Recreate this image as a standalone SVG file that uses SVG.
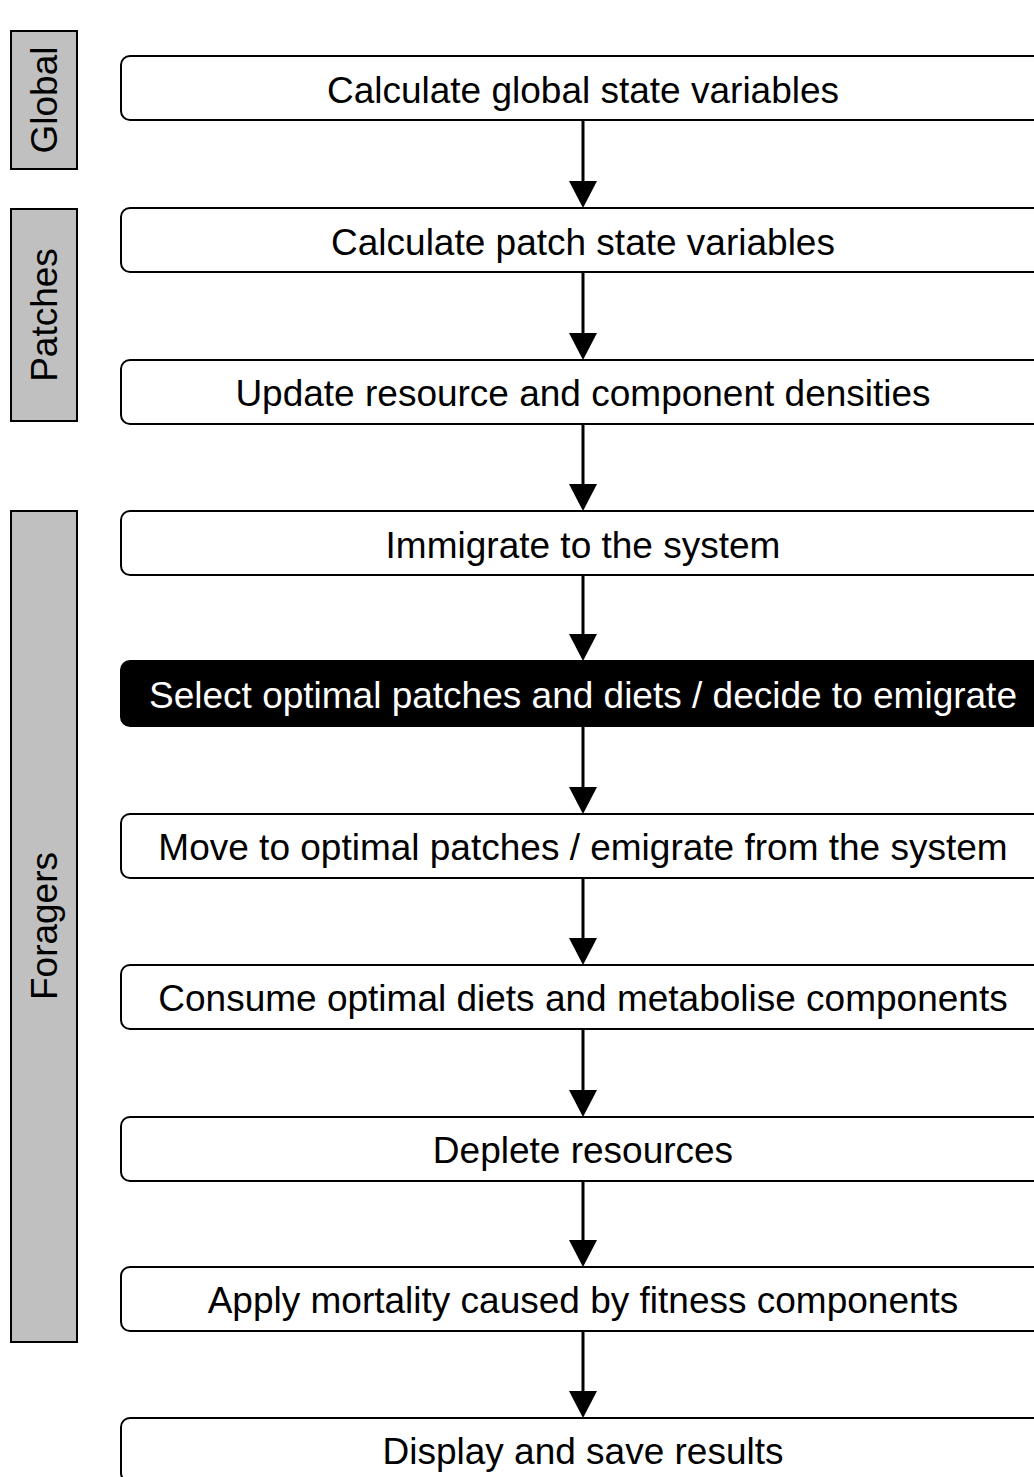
<svg xmlns="http://www.w3.org/2000/svg" width="1034" height="1477" viewBox="0 0 1034 1477">
<style>
.bar{fill:#c0c0c0;stroke:#000;stroke-width:2}
.box{fill:#fff;stroke:#000;stroke-width:2}
.dark{fill:#000;stroke:#000;stroke-width:2}
.t{font-family:"Liberation Sans",Arial,sans-serif;font-size:37px;fill:#000;text-anchor:middle}
.tw{fill:#fff}
.conn line{stroke:#000;stroke-width:3}
.conn polygon{fill:#000}
</style>
<rect width="1034" height="1477" fill="#fff"/>
<g id="lane-global"><rect class="bar" x="11" y="31" width="66" height="138"/><text class="t" transform="translate(57,100) rotate(-90)">Global</text></g>
<g id="lane-patches"><rect class="bar" x="11" y="209" width="66" height="212"/><text class="t" transform="translate(57,315) rotate(-90)">Patches</text></g>
<g id="lane-foragers"><rect class="bar" x="11" y="511" width="66" height="831"/><text class="t" transform="translate(57,926) rotate(-90)">Foragers</text></g>
<g class="conn" id="connectors">
<line x1="583" y1="120" x2="583" y2="182"/><polygon points="569,181 597,181 583,208"/>
<line x1="583" y1="272" x2="583" y2="334"/><polygon points="569,333 597,333 583,360"/>
<line x1="583" y1="424" x2="583" y2="485"/><polygon points="569,484 597,484 583,511"/>
<line x1="583" y1="575" x2="583" y2="635"/><polygon points="569,634 597,634 583,661"/>
<line x1="583" y1="726" x2="583" y2="788"/><polygon points="569,787 597,787 583,814"/>
<line x1="583" y1="878" x2="583" y2="939"/><polygon points="569,938 597,938 583,965"/>
<line x1="583" y1="1029" x2="583" y2="1091"/><polygon points="569,1090 597,1090 583,1117"/>
<line x1="583" y1="1181" x2="583" y2="1241"/><polygon points="569,1240 597,1240 583,1267"/>
<line x1="583" y1="1331" x2="583" y2="1392"/><polygon points="569,1391 597,1391 583,1418"/>
</g>
<g id="n1"><rect class="box" x="121" y="56" width="930" height="64" rx="9"/><text class="t" x="583" y="103">Calculate global state variables</text></g>
<g id="n2"><rect class="box" x="121" y="208" width="930" height="64" rx="9"/><text class="t" x="583" y="255">Calculate patch state variables</text></g>
<g id="n3"><rect class="box" x="121" y="360" width="930" height="64" rx="9"/><text class="t" x="583" y="406">Update resource and component densities</text></g>
<g id="n4"><rect class="box" x="121" y="511" width="930" height="64" rx="9"/><text class="t" x="583" y="558">Immigrate to the system</text></g>
<g id="n5"><rect class="dark" x="121" y="661" width="930" height="65" rx="9"/><text class="t tw" x="583" y="708">Select optimal patches and diets / decide to emigrate</text></g>
<g id="n6"><rect class="box" x="121" y="814" width="930" height="64" rx="9"/><text class="t" x="583" y="860">Move to optimal patches / emigrate from the system</text></g>
<g id="n7"><rect class="box" x="121" y="965" width="930" height="64" rx="9"/><text class="t" x="583" y="1011">Consume optimal diets and metabolise components</text></g>
<g id="n8"><rect class="box" x="121" y="1117" width="930" height="64" rx="9"/><text class="t" x="583" y="1163">Deplete resources</text></g>
<g id="n9"><rect class="box" x="121" y="1267" width="930" height="64" rx="9"/><text class="t" x="583" y="1313">Apply mortality caused by fitness components</text></g>
<g id="n10"><rect class="box" x="121" y="1418" width="930" height="64" rx="9"/><text class="t" x="583" y="1464">Display and save results</text></g>
</svg>
